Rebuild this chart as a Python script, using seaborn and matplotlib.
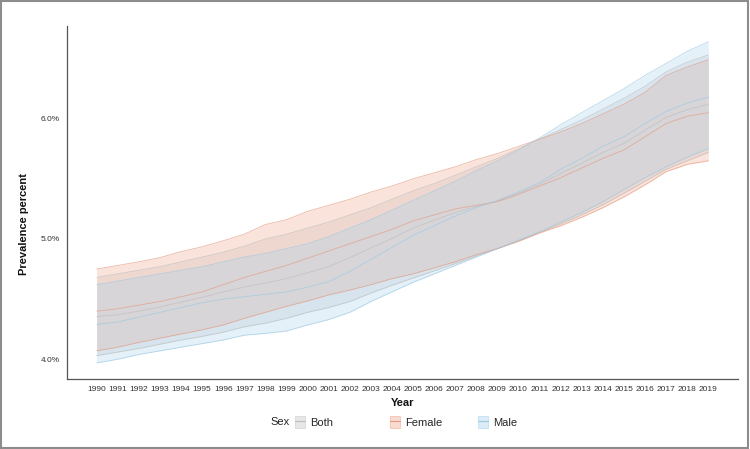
import numpy as np
import pandas as pd
import matplotlib
matplotlib.use('Agg')
import matplotlib.pyplot as plt
import seaborn as sns
from matplotlib.patches import Patch, Rectangle
from matplotlib.lines import Line2D
from matplotlib.ticker import FuncFormatter

years = list(range(1990, 2020))

# prevalence (%): mean line and uncertainty band per sex
female_upper = [4.75, 4.78, 4.81, 4.845, 4.895, 4.935, 4.985, 5.04, 5.12, 5.16,
                5.23, 5.28, 5.33, 5.39, 5.44, 5.50, 5.55, 5.60, 5.66, 5.71,
                5.77, 5.83, 5.89, 5.96, 6.04, 6.12, 6.22, 6.36, 6.43, 6.49]
female_mean  = [4.40, 4.42, 4.45, 4.48, 4.52, 4.56, 4.62, 4.68, 4.73, 4.78,
                4.84, 4.90, 4.96, 5.02, 5.08, 5.15, 5.20, 5.25, 5.28, 5.31,
                5.37, 5.44, 5.51, 5.59, 5.67, 5.74, 5.85, 5.96, 6.02, 6.05]
female_lower = [4.07, 4.10, 4.14, 4.175, 4.21, 4.245, 4.285, 4.34, 4.39, 4.44,
                4.485, 4.535, 4.575, 4.62, 4.67, 4.71, 4.76, 4.81, 4.87, 4.92,
                4.98, 5.05, 5.11, 5.18, 5.26, 5.35, 5.45, 5.56, 5.62, 5.65]

male_upper = [4.62, 4.65, 4.68, 4.71, 4.74, 4.77, 4.81, 4.85, 4.88, 4.92,
              4.96, 5.02, 5.09, 5.16, 5.24, 5.32, 5.40, 5.48, 5.57, 5.65,
              5.74, 5.84, 5.95, 6.05, 6.15, 6.25, 6.36, 6.46, 6.56, 6.64]
male_mean  = [4.29, 4.31, 4.35, 4.39, 4.43, 4.47, 4.50, 4.52, 4.54, 4.56,
              4.60, 4.645, 4.73, 4.83, 4.93, 5.03, 5.11, 5.19, 5.26, 5.32,
              5.39, 5.47, 5.58, 5.67, 5.77, 5.85, 5.96, 6.06, 6.13, 6.18]
male_lower = [3.97, 4.00, 4.04, 4.07, 4.10, 4.13, 4.16, 4.20, 4.215, 4.235,
              4.285, 4.33, 4.39, 4.48, 4.56, 4.64, 4.71, 4.78, 4.85, 4.92,
              4.99, 5.06, 5.14, 5.22, 5.31, 5.41, 5.51, 5.60, 5.68, 5.75]

both_upper = [4.68, 4.71, 4.74, 4.77, 4.81, 4.85, 4.89, 4.94, 5.00, 5.04,
              5.09, 5.14, 5.20, 5.26, 5.33, 5.40, 5.46, 5.53, 5.60, 5.67,
              5.75, 5.83, 5.91, 5.99, 6.08, 6.17, 6.27, 6.39, 6.47, 6.53]
both_mean  = [4.355, 4.37, 4.40, 4.435, 4.475, 4.515, 4.56, 4.60, 4.635, 4.67,
              4.72, 4.77, 4.845, 4.925, 5.005, 5.09, 5.155, 5.22, 5.27, 5.315,
              5.38, 5.455, 5.545, 5.63, 5.72, 5.795, 5.905, 6.01, 6.075, 6.12]
both_lower = [4.03, 4.06, 4.09, 4.125, 4.16, 4.19, 4.225, 4.27, 4.30, 4.34,
              4.39, 4.43, 4.48, 4.55, 4.615, 4.675, 4.735, 4.795, 4.86, 4.92,
              4.985, 5.055, 5.125, 5.20, 5.285, 5.38, 5.48, 5.58, 5.65, 5.72]

sexes = ['Both', 'Female', 'Male']
fill_colors = {'Both': '#c4c4c4', 'Female': '#f0a58a', 'Male': '#a6d2ee'}
line_colors = {'Both': '#bdbdbd', 'Female': '#e39a80', 'Male': '#9cc8e2'}

bands = {
    'Both':   (both_lower, both_mean, both_upper),
    'Female': (female_lower, female_mean, female_upper),
    'Male':   (male_lower, male_mean, male_upper),
}

rows = []
for sex in sexes:
    lo, mid, hi = bands[sex]
    for stat, vals in (('lower', lo), ('mean', mid), ('upper', hi)):
        for y, v in zip(years, vals):
            rows.append({'year': y, 'sex': sex, 'stat': stat, 'value': v})
df = pd.DataFrame(rows)
wide = df.pivot_table(index=['sex', 'year'], columns='stat', values='value').reset_index()

sns.set_theme(style='white')
plt.rcParams['font.family'] = ['Liberation Sans', 'DejaVu Sans']

fig = plt.figure(figsize=(7.5, 4.49), dpi=100)
ax = fig.add_axes([0.0889, 0.1559, 0.8947, 0.7869])

for sex in sexes:
    d = wide[wide['sex'] == sex]
    ax.fill_between(d['year'], d['lower'], d['upper'],
                    color=fill_colors[sex], alpha=0.3, lw=0)

sns.lineplot(data=df, x='year', y='value', hue='sex', units='stat',
             estimator=None, hue_order=sexes, palette=line_colors,
             linewidth=0.6, alpha=0.7, legend=False, ax=ax)

ax.set_xlim(1988.58, 2020.39)
ax.set_ylim(3.836, 6.773)
ax.set_xticks(years)
ax.set_yticks([4, 5, 6])
ax.yaxis.set_major_formatter(FuncFormatter(lambda v, _: f'{v:.1f}%'))

for s in ['top', 'right']:
    ax.spines[s].set_visible(False)
for s in ['left', 'bottom']:
    ax.spines[s].set_color('#555555')
    ax.spines[s].set_linewidth(0.9)
ax.tick_params(axis='both', length=3, width=0.6, color='#555555',
               labelsize=6, labelcolor='#333333', pad=2)

ax.set_xlabel('Year', fontsize=8, fontweight='bold', color='#111111')
ax.set_ylabel('Prevalence percent', fontsize=8, fontweight='bold', color='#111111')
ax.xaxis.set_label_coords(0.5, -0.054)
ax.yaxis.set_label_coords(-0.056, 0.4387)

# legend along the bottom
fig.text(270 / 750, 1 - 422 / 449, 'Sex', fontsize=8, va='center', ha='left', color='#222222')
key_x = {'Both': 295, 'Female': 390, 'Male': 478}
for sex in sexes:
    h = (Patch(facecolor=fill_colors[sex], alpha=0.4, edgecolor=line_colors[sex], lw=0.8),
         Line2D([0], [0], color=line_colors[sex], lw=0.8))
    fig.legend(handles=[h], labels=[sex], loc='center left',
               bbox_to_anchor=(key_x[sex] / 750, 1 - 422 / 449),
               frameon=False, fontsize=8, handlelength=0.9, handleheight=1.4,
               handletextpad=0.5, borderpad=0, borderaxespad=0)

fig.add_artist(Rectangle((0.7 / 750, 1.3 / 449), 747 / 750, 447 / 449,
                         transform=fig.transFigure, fill=False,
                         edgecolor='#8c8c8c', lw=1.5))

fig.savefig('out.png', dpi=100)
plt.close()
